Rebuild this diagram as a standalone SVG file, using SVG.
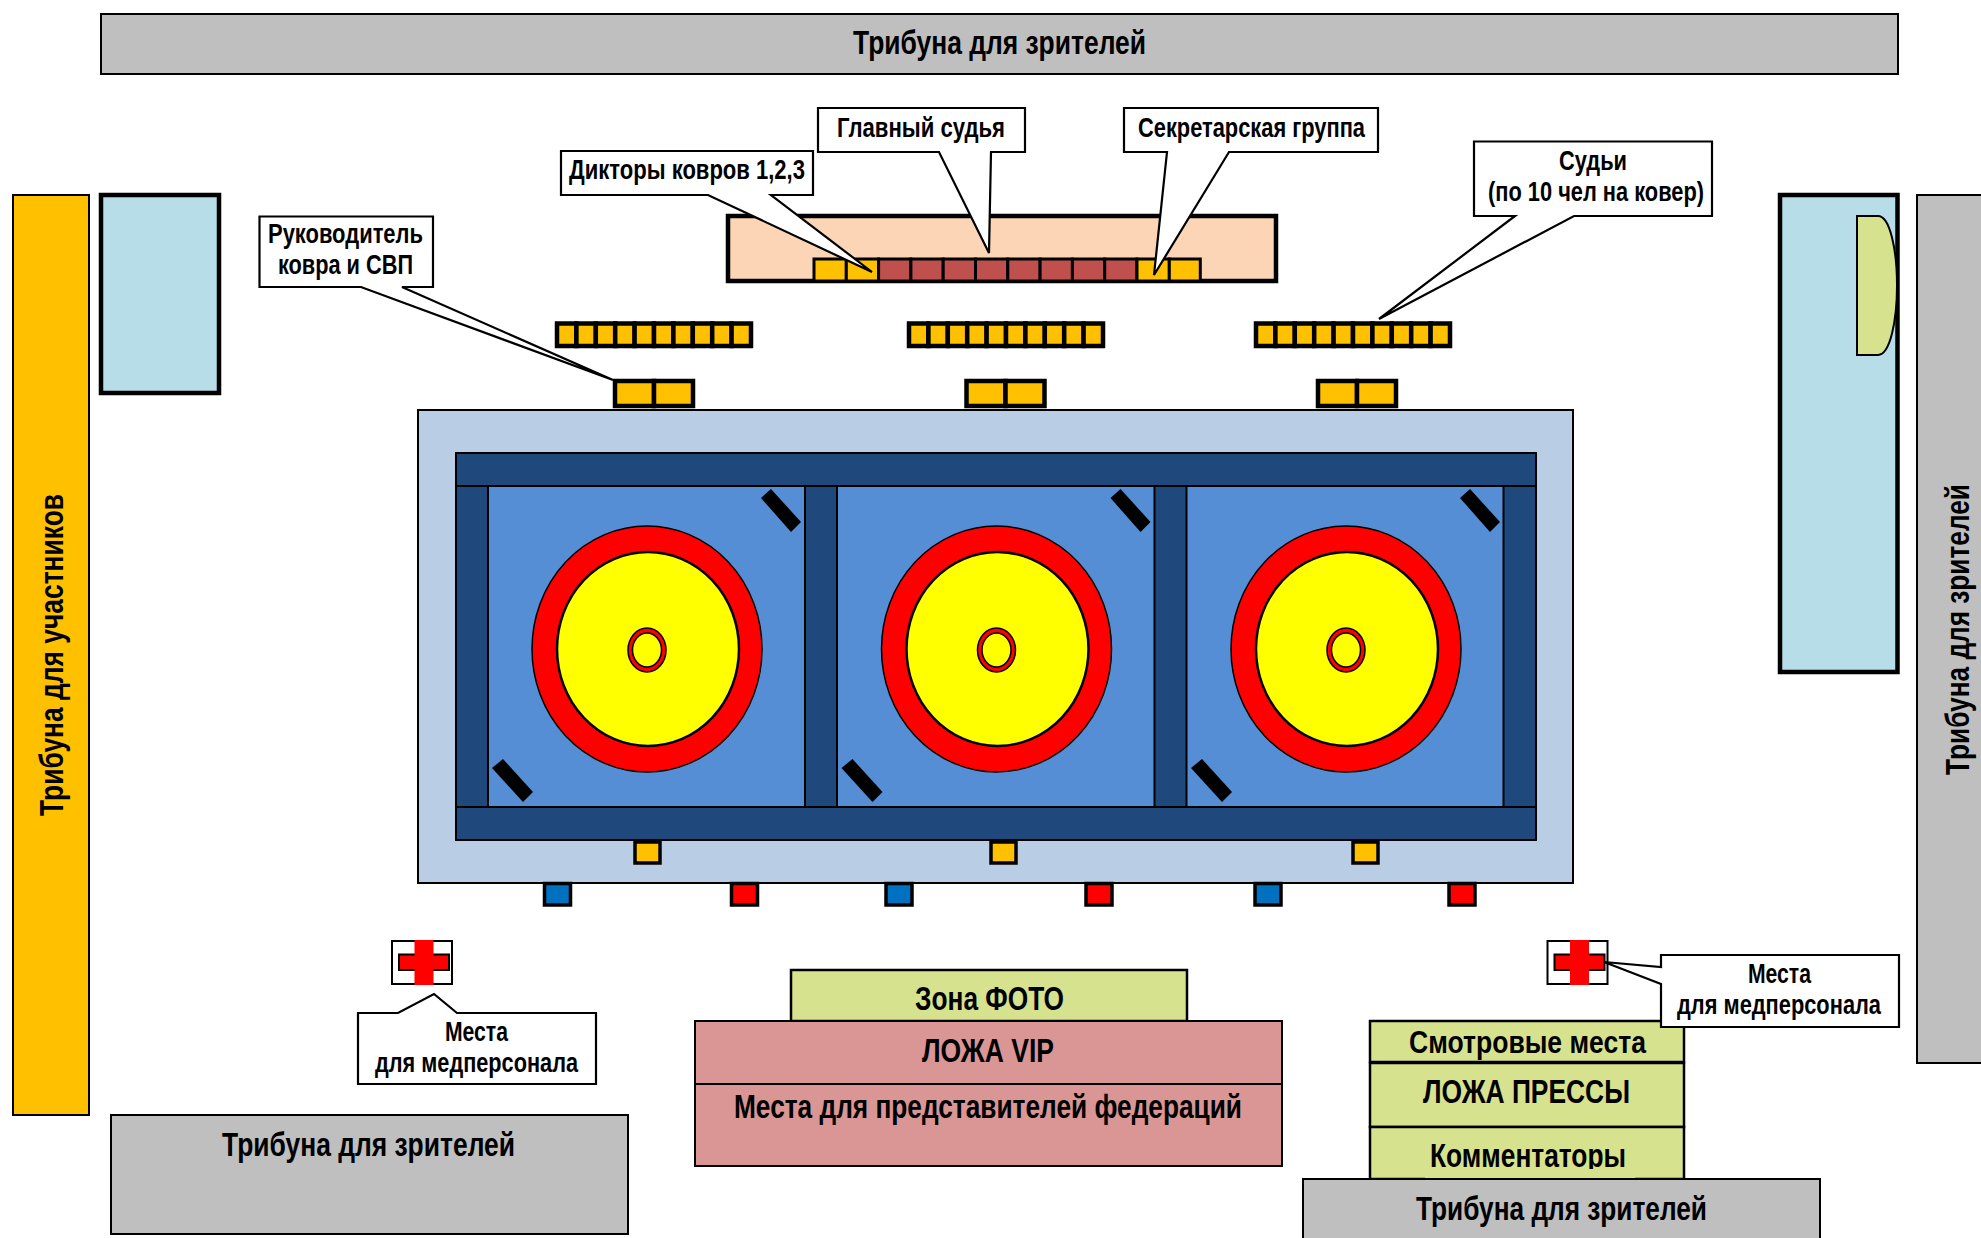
<svg xmlns="http://www.w3.org/2000/svg" xmlns:xlink="http://www.w3.org/1999/xlink" width="1981" height="1238" viewBox="0 0 1981 1238">
<style>
text{font-family:"Liberation Sans",Arial,sans-serif;font-weight:700;fill:#000;font-size:27.500px}
.t30{font-size:33px}.t29{font-size:31.500px}
.gray{fill:#bfbfbf;stroke:#000;stroke-width:2}
.green{fill:#d7e28e;stroke:#000;stroke-width:2.5}
.pink{fill:#d99694;stroke:#000;stroke-width:2}
.call{fill:#fff;stroke:#000;stroke-width:2.2;stroke-linejoin:miter}
.or{fill:#ffc000;stroke:#000;stroke-width:4.500}
.orthin{fill:#ffc000;stroke:#000;stroke-width:3}
.br{fill:#c0504d;stroke:#000;stroke-width:3}
.dk{fill:#1f497d;stroke:#000;stroke-width:2}
</style>
<defs>
<g id="ring">
<ellipse cx="647" cy="649" rx="115" ry="123" fill="#f00" stroke="#000" stroke-width="1.5"/>
<ellipse cx="648" cy="649" rx="91" ry="97" fill="#ff0" stroke="#000" stroke-width="2.5"/>
<ellipse cx="647" cy="650" rx="19" ry="22" fill="#f00" stroke="#000" stroke-width="1.5"/>
<ellipse cx="647" cy="650" rx="14.5" ry="17" fill="#ff0" stroke="#000" stroke-width="1.5"/>
<polygon points="761,498 771,489 801,522 791,532" fill="#000"/>
<polygon points="492,768 503,759 533,792 523,802" fill="#000"/>
</g>
<g id="seat10">
<rect class="or" x="0" y="0" width="19.4" height="22.500"/><rect class="or" x="19.4" y="0" width="19.4" height="22.500"/><rect class="or" x="38.8" y="0" width="19.4" height="22.500"/><rect class="or" x="58.2" y="0" width="19.4" height="22.500"/><rect class="or" x="77.6" y="0" width="19.4" height="22.500"/><rect class="or" x="97" y="0" width="19.4" height="22.500"/><rect class="or" x="116.4" y="0" width="19.4" height="22.500"/><rect class="or" x="135.8" y="0" width="19.4" height="22.500"/><rect class="or" x="155.200" y="0" width="19.4" height="22.500"/><rect class="or" x="174.600" y="0" width="19.4" height="22.500"/>
</g>
<g id="seat2">
<rect class="or" x="0" y="0" width="39" height="25"/><rect class="or" x="39" y="0" width="39" height="25"/>
</g>
<g id="cross">
<rect x="0" y="0" width="60" height="43" fill="#fff" stroke="#000" stroke-width="2"/>
<rect x="7" y="13.500" width="50" height="15.500" fill="#f00" stroke="#000" stroke-width="2"/>
<rect x="22.500" y="-1" width="19" height="45" fill="#f00"/>
</g>
</defs>

<g id="stand-top"><rect class="gray" x="101" y="14" width="1797" height="60"/><text class="t30" x="853" y="54" textLength="293" lengthAdjust="spacingAndGlyphs">Трибуна для зрителей</text></g>
<g id="stand-participants"><rect x="13" y="195" width="76" height="920" fill="#ffc000" stroke="#000" stroke-width="2"/><text class="t30" transform="translate(63 816) rotate(-90)" textLength="322" lengthAdjust="spacingAndGlyphs">Трибуна для участников</text></g>
<g id="room-left"><rect x="101" y="195" width="118" height="198" fill="#b7dde8" stroke="#000" stroke-width="4.500"/></g>
<g id="room-right"><rect x="1780" y="195" width="117.500" height="477" fill="#b7dde8" stroke="#000" stroke-width="4.500"/><path d="M1857 216H1878C1890 216 1897 250 1897 285.500C1897 321 1890 355 1878 355H1857Z" fill="#d7e28e" stroke="#000" stroke-width="2"/></g>
<g id="stand-right"><rect class="gray" x="1917" y="195" width="70" height="868"/><text class="t30" transform="translate(1969 775) rotate(-90)" textLength="291" lengthAdjust="spacingAndGlyphs">Трибуна для зрителей</text></g>

<g id="judges-table">
<rect x="728" y="216" width="548" height="65" fill="#fbd5b5" stroke="#000" stroke-width="4.500"/>
<g>
<rect class="orthin" x="814" y="259" width="32.300" height="22"/><rect class="orthin" x="846.300" y="259" width="32.300" height="22"/>
<rect class="br" x="878.600" y="259" width="32.300" height="22"/><rect class="br" x="910.900" y="259" width="32.300" height="22"/><rect class="br" x="943.200" y="259" width="32.300" height="22"/><rect class="br" x="975.500" y="259" width="32.300" height="22"/><rect class="br" x="1007.800" y="259" width="32.300" height="22"/><rect class="br" x="1040.100" y="259" width="32.300" height="22"/><rect class="br" x="1072.400" y="259" width="32.300" height="22"/><rect class="br" x="1104.700" y="259" width="32.300" height="22"/>
<rect class="orthin" x="1137" y="259" width="32.300" height="22"/><rect class="orthin" x="1169.300" y="259" width="31" height="22"/>
</g>
</g>
<g id="judge-seats">
<use xlink:href="#seat10" href="#seat10" x="557" y="323.500"/><use xlink:href="#seat10" href="#seat10" x="909" y="323.500"/><use xlink:href="#seat10" href="#seat10" x="1256" y="323.500"/>
<use xlink:href="#seat2" href="#seat2" x="615" y="381"/><use xlink:href="#seat2" href="#seat2" x="966.500" y="381"/><use xlink:href="#seat2" href="#seat2" x="1318" y="381"/>
</g>

<g id="mat-zone">
<rect x="418" y="410" width="1155" height="473" fill="#b9cde5" stroke="#000" stroke-width="2"/>
<rect x="456" y="453" width="1080" height="387" fill="#558ed5" stroke="#000" stroke-width="2"/>
<rect class="dk" x="456" y="453" width="1080" height="33"/>
<rect class="dk" x="456" y="807" width="1080" height="33"/>
<rect class="dk" x="456" y="486" width="32" height="321"/>
<rect class="dk" x="805" y="486" width="32" height="321"/>
<rect class="dk" x="1154.500" y="486" width="32" height="321"/>
<rect class="dk" x="1503.500" y="486" width="32.500" height="321"/>
</g>
<g id="mat-1"><use xlink:href="#ring" href="#ring"/></g>
<g id="mat-2"><use xlink:href="#ring" href="#ring" x="349.500"/></g>
<g id="mat-3"><use xlink:href="#ring" href="#ring" x="699"/></g>
<g id="corner-seats">
<rect x="635" y="842" width="25" height="21" fill="#ffc000" stroke="#000" stroke-width="3.500"/>
<rect x="991" y="842" width="25" height="21" fill="#ffc000" stroke="#000" stroke-width="3.500"/>
<rect x="1353" y="842" width="25" height="21" fill="#ffc000" stroke="#000" stroke-width="3.500"/>
<rect x="544.500" y="883.500" width="26" height="21.500" fill="#0070c0" stroke="#000" stroke-width="3.500"/>
<rect x="731.500" y="883.500" width="26" height="21.500" fill="#f00" stroke="#000" stroke-width="3.500"/>
<rect x="886" y="883.500" width="26" height="21.500" fill="#0070c0" stroke="#000" stroke-width="3.500"/>
<rect x="1086" y="883.500" width="26" height="21.500" fill="#f00" stroke="#000" stroke-width="3.500"/>
<rect x="1255" y="883.500" width="26" height="21.500" fill="#0070c0" stroke="#000" stroke-width="3.500"/>
<rect x="1449" y="883.500" width="26" height="21.500" fill="#f00" stroke="#000" stroke-width="3.500"/>
</g>
<g id="medic-left"><use xlink:href="#cross" href="#cross" x="392" y="941"/></g>
<g id="medic-right"><use xlink:href="#cross" href="#cross" x="1547.500" y="941"/></g>

<g id="callout-chief"><path class="call" d="M818 108H1025V152H991L989 253L939 152H818Z"/><text x="837" y="137" textLength="168" lengthAdjust="spacingAndGlyphs">Главный судья</text></g>
<g id="callout-secretary"><path class="call" d="M1124 108H1378V152H1229L1154 275L1167 152H1124Z"/><text x="1138" y="137" textLength="227" lengthAdjust="spacingAndGlyphs">Секретарская группа</text></g>
<g id="callout-announcers"><path class="call" d="M561 151H813V195H771L872 272L708 195H561Z"/><text x="569" y="179" textLength="236" lengthAdjust="spacingAndGlyphs">Дикторы ковров 1,2,3</text></g>
<g id="callout-judges"><path class="call" d="M1474 141.500H1712V216H1574L1379 319L1515 216H1474Z"/><text x="1559" y="170" textLength="68" lengthAdjust="spacingAndGlyphs">Судьи</text><text x="1488" y="201" textLength="216" lengthAdjust="spacingAndGlyphs">(по 10 чел на ковер)</text></g>
<g id="callout-head"><path class="call" d="M259.500 216.500H433V287H402L613 380L361 287H259.500Z"/><text x="268" y="243" textLength="155" lengthAdjust="spacingAndGlyphs">Руководитель</text><text x="278" y="274" textLength="135" lengthAdjust="spacingAndGlyphs">ковра и СВП</text></g>

<g id="stand-bottom-left"><rect class="gray" x="111" y="1115" width="517" height="119"/><text class="t30" x="222" y="1156" textLength="293" lengthAdjust="spacingAndGlyphs">Трибуна для зрителей</text></g>
<g id="callout-medic-left"><path class="call" d="M358 1013H398L434 994L457 1013H596V1084H358Z"/><text x="445" y="1041" textLength="63" lengthAdjust="spacingAndGlyphs">Места</text><text x="375" y="1072" textLength="203" lengthAdjust="spacingAndGlyphs">для медперсонала</text></g>

<g id="zone-photo"><rect class="green" x="791" y="970" width="396" height="51"/><text class="t30" x="915" y="1010" textLength="149" lengthAdjust="spacingAndGlyphs">Зона ФОТО</text></g>
<g id="box-vip"><rect class="pink" x="695" y="1021" width="587" height="63"/><text class="t30" x="922" y="1062" textLength="132" lengthAdjust="spacingAndGlyphs">ЛОЖА VIP</text></g>
<g id="box-federations"><rect class="pink" x="695" y="1084" width="587" height="82"/><text class="t30" x="734" y="1118" textLength="508" lengthAdjust="spacingAndGlyphs">Места для представителей федераций</text></g>

<g id="view-seats"><rect class="green" x="1370" y="1021" width="314" height="41"/><text class="t29" x="1409" y="1053" textLength="237" lengthAdjust="spacingAndGlyphs">Смотровые места</text></g>
<g id="press-box"><rect class="green" x="1370" y="1063" width="314" height="64"/><text class="t30" x="1423" y="1103" textLength="207" lengthAdjust="spacingAndGlyphs">ЛОЖА ПРЕССЫ</text></g>
<g id="commentators"><rect class="green" x="1370" y="1127" width="314" height="52"/><text class="t30" x="1430" y="1167" textLength="196" lengthAdjust="spacingAndGlyphs">Комментаторы</text><rect x="1425" y="1169" width="210" height="9" fill="#d7e28e"/></g>
<g id="stand-bottom-right"><rect class="gray" x="1303" y="1179" width="517" height="70"/><text class="t30" x="1416" y="1220" textLength="291" lengthAdjust="spacingAndGlyphs">Трибуна для зрителей</text></g>
<g id="callout-medic-right"><path class="call" d="M1661 955H1899V1027H1661V984L1604 962L1661 967Z"/><text x="1748" y="983" textLength="63" lengthAdjust="spacingAndGlyphs">Места</text><text x="1677" y="1014" textLength="204" lengthAdjust="spacingAndGlyphs">для медперсонала</text></g>
</svg>
